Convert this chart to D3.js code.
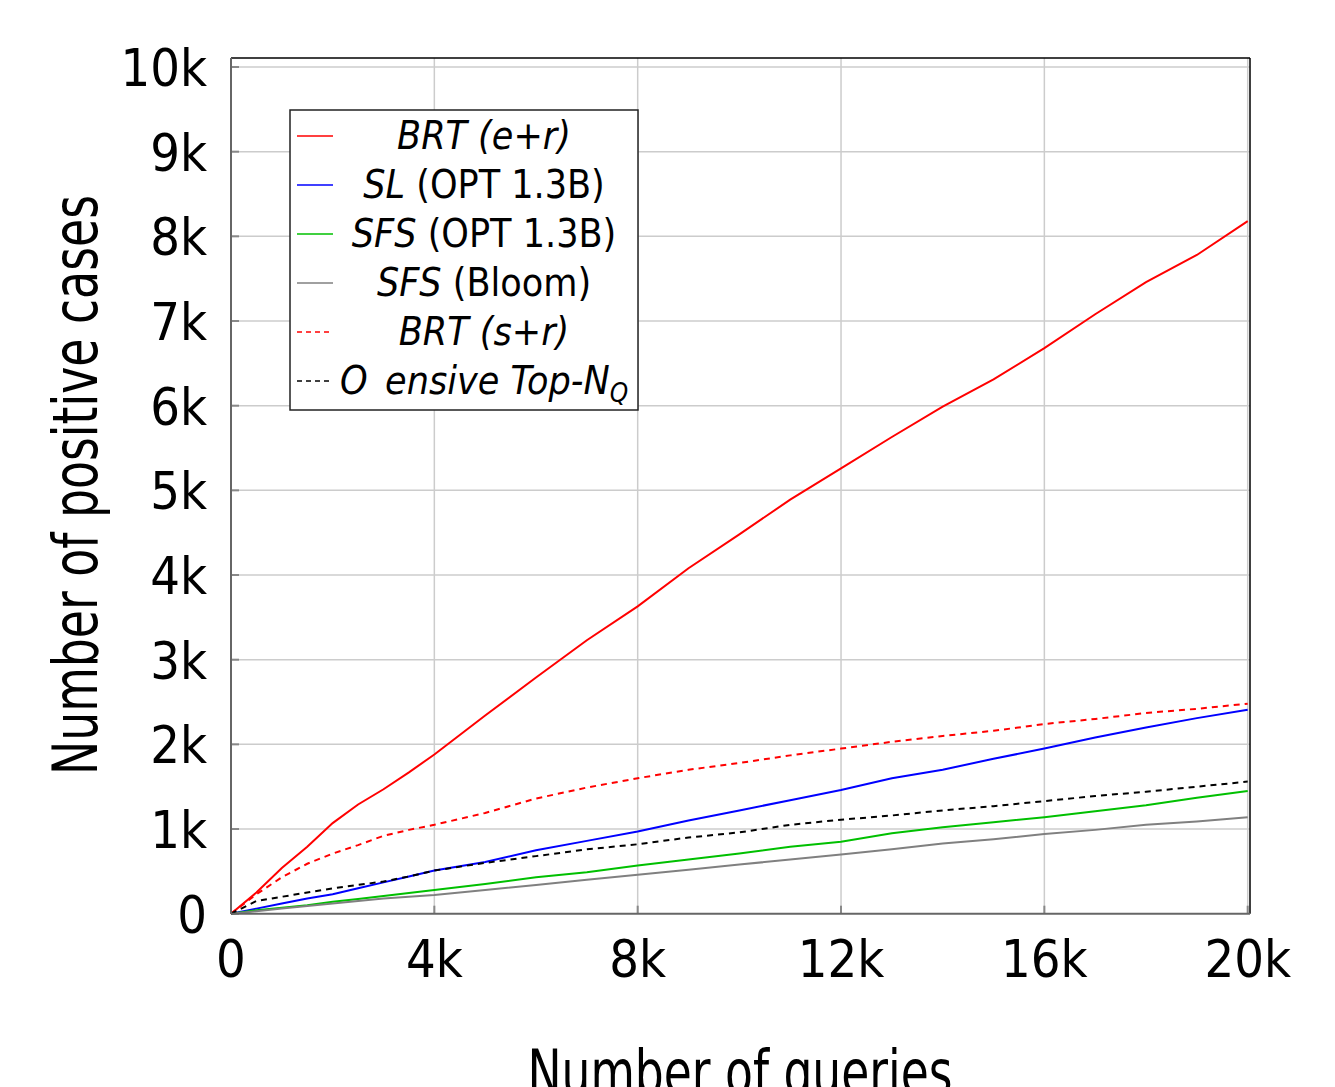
<!DOCTYPE html>
<meta charset="utf-8">
<style>
body { margin: 0; background: #fff; }
svg text { font-family: "Liberation Sans Narrow", "DejaVu Sans Condensed", sans-serif; fill: #000; }
.grid line { stroke: #cccccc; stroke-width: 1.5px; }
</style>
<body>
<svg width="1335" height="1087" id="chart"></svg>
<script src="https://d3js.org/d3.v4.min.js"></script>
<script>

// x positions (number of queries, in thousands)
var queries = [0, 0.5, 1, 1.5, 2, 2.5, 3, 3.5, 4, 5, 6, 7, 8, 9, 10, 11, 12, 13, 14, 15, 16, 17, 18, 19, 20];

// number of positive cases (thousands)
var brtER   = [0, 0.25, 0.54, 0.79, 1.07, 1.29, 1.47, 1.67, 1.88, 2.34, 2.79, 3.23, 3.63, 4.08, 4.48, 4.89, 5.26, 5.63, 5.99, 6.31, 6.68, 7.08, 7.46, 7.78, 8.18];
var slOpt   = [0, 0.06, 0.12, 0.18, 0.23, 0.30, 0.37, 0.44, 0.51, 0.61, 0.75, 0.86, 0.97, 1.10, 1.22, 1.34, 1.46, 1.60, 1.70, 1.83, 1.95, 2.08, 2.20, 2.31, 2.41];
var sfsOpt  = [0, 0.04, 0.07, 0.10, 0.14, 0.175, 0.21, 0.245, 0.28, 0.35, 0.43, 0.49, 0.57, 0.64, 0.71, 0.79, 0.85, 0.95, 1.02, 1.08, 1.14, 1.21, 1.28, 1.37, 1.45];
var sfsBloom= [0, 0.03, 0.06, 0.09, 0.12, 0.15, 0.18, 0.20, 0.22, 0.28, 0.34, 0.40, 0.46, 0.52, 0.58, 0.64, 0.70, 0.76, 0.83, 0.88, 0.94, 0.99, 1.05, 1.09, 1.14];
var brtSR   = [0, 0.23, 0.43, 0.59, 0.71, 0.81, 0.92, 0.99, 1.05, 1.19, 1.36, 1.49, 1.60, 1.70, 1.78, 1.87, 1.95, 2.03, 2.10, 2.16, 2.24, 2.30, 2.37, 2.42, 2.48];
var topN    = [0, 0.15, 0.20, 0.25, 0.30, 0.34, 0.38, 0.44, 0.51, 0.60, 0.68, 0.76, 0.82, 0.90, 0.96, 1.05, 1.11, 1.16, 1.22, 1.27, 1.33, 1.39, 1.44, 1.50, 1.56];

var xTicks = [0, 4, 8, 12, 16, 20];
var yTicks = [0, 1, 2, 3, 4, 5, 6, 7, 8, 9, 10];

var series = [
    {name: "brtER",  values: brtER,    color: "#ff0000", dash: null},
    {name: "slOpt",  values: slOpt,    color: "#0000ff", dash: null},
    {name: "sfsOpt", values: sfsOpt,   color: "#00c000", dash: null},
    {name: "bloom",  values: sfsBloom, color: "#808080", dash: null},
    {name: "brtSR",  values: brtSR,    color: "#ff0000", dash: "6,5"},
    {name: "topN",   values: topN,     color: "#000000", dash: "6,5"}
];

var svg = d3.select("svg");

var plotLeft = 231, plotRight = 1247.7, plotTop = 67, plotBottom = 913.7;
var x = d3.scaleLinear().domain([0, 20]).range([plotLeft, plotRight]);
var y = d3.scaleLinear().domain([0, 10]).range([plotBottom, plotTop]);

// frame edges go slightly past the last ticks
var frameR = 1250, frameT = 58;

let grid = svg.append("g").attr("class", "grid");
grid.selectAll(".gx").data(xTicks.slice(1)).enter().append("line")
    .attr("x1", d => x(d)).attr("x2", d => x(d))
    .attr("y1", frameT).attr("y2", plotBottom);
grid.selectAll(".gy").data(yTicks.slice(1)).enter().append("line")
    .attr("x1", plotLeft).attr("x2", frameR)
    .attr("y1", d => y(d)).attr("y2", d => y(d));

// small inner ticks
let ticks = svg.append("g").attr("stroke", "#888").attr("stroke-width", 2);
ticks.selectAll(".ty").data(yTicks).enter().append("line")
    .attr("x1", plotLeft).attr("x2", plotLeft + 8)
    .attr("y1", d => y(d)).attr("y2", d => y(d));
ticks.selectAll(".tx").data(xTicks).enter().append("line")
    .attr("x1", d => x(d)).attr("x2", d => x(d))
    .attr("y1", plotBottom).attr("y2", plotBottom - 8);

var line = d3.line()
    .x(function(d, i) { return x(queries[i]); })
    .y(function(d) { return y(d); });

svg.append("g").selectAll("path")
    .data(series)
    .enter().append("path")
    .attr("d", d => line(d.values))
    .attr("fill", "none")
    .attr("stroke", d => d.color)
    .attr("stroke-width", 2)
    .attr("stroke-dasharray", d => d.dash);

// frame: top/right black, left/bottom dark gray
svg.append("line").attr("x1", plotLeft).attr("x2", frameR).attr("y1", frameT).attr("y2", frameT).attr("stroke", "#000").attr("stroke-width", 1.5);
svg.append("line").attr("x1", frameR).attr("x2", frameR).attr("y1", frameT).attr("y2", plotBottom).attr("stroke", "#000").attr("stroke-width", 1.5);
svg.append("line").attr("x1", plotLeft).attr("x2", plotLeft).attr("y1", frameT).attr("y2", plotBottom).attr("stroke", "#666").attr("stroke-width", 2);
svg.append("line").attr("x1", plotLeft).attr("x2", frameR).attr("y1", plotBottom).attr("y2", plotBottom).attr("stroke", "#666").attr("stroke-width", 2);

// tick labels
svg.append("g").selectAll("text").data(yTicks).enter().append("text")
    .attr("x", 207).attr("y", d => y(d) + 19)
    .attr("text-anchor", "end")
    .attr("font-size", 52)
    .text(d => d === 0 ? "0" : d + "k");
svg.append("g").selectAll("text").data(xTicks).enter().append("text")
    .attr("x", d => x(d)).attr("y", 977)
    .attr("text-anchor", "middle")
    .attr("font-size", 52)
    .text(d => d === 0 ? "0" : (d * 1) + "k");

// axis titles
svg.append("text")
    .attr("transform", "translate(97," + 485 + ") rotate(-90)")
    .attr("text-anchor", "middle")
    .attr("font-size", 62)
    .attr("textLength", 580)
    .attr("lengthAdjust", "spacingAndGlyphs")
    .text("Number of positive cases");
svg.append("text")
    .attr("x", 740).attr("y", 1094)
    .attr("text-anchor", "middle")
    .attr("font-size", 62)
    .attr("textLength", 425)
    .attr("lengthAdjust", "spacingAndGlyphs")
    .text("Number of queries");

// legend
let legend = svg.append("g");
legend.append("rect")
    .attr("x", 290).attr("y", 110).attr("width", 348).attr("height", 300)
    .attr("fill", "#fff").attr("stroke", "#222").attr("stroke-width", 1.5);

var legendRows = [
    [{t: "BRT (e+r)", i: true}],
    [{t: "SL", i: true}, {t: " (OPT 1.3B)", i: false}],
    [{t: "SFS", i: true}, {t: " (OPT 1.3B)", i: false}],
    [{t: "SFS", i: true}, {t: " (Bloom)", i: false}],
    [{t: "BRT (s+r)", i: true}],
    [{t: "O\u2002ensive Top-N", i: true}, {t: "Q", i: true, sub: true}]
];

legendRows.forEach(function(row, k) {
    var ly = 136 + k * 49;
    var s = series[k];
    legend.append("line")
        .attr("x1", 297).attr("x2", 333)
        .attr("y1", ly).attr("y2", ly)
        .attr("stroke", s.color).attr("stroke-width", 1.5)
        .attr("stroke-dasharray", s.dash ? "5,4" : null);
    var t = legend.append("text")
        .attr("x", 484).attr("y", ly + 13)
        .attr("text-anchor", "middle")
        .attr("font-size", 39)
        .attr("xml:space", "preserve");
    row.forEach(function(p) {
        var ts = t.append("tspan")
            .attr("font-style", p.i ? "italic" : "normal")
            .text(p.t);
        if (p.sub) ts.attr("font-size", 26).attr("dy", 8);
    });
});

</script>
</body>
